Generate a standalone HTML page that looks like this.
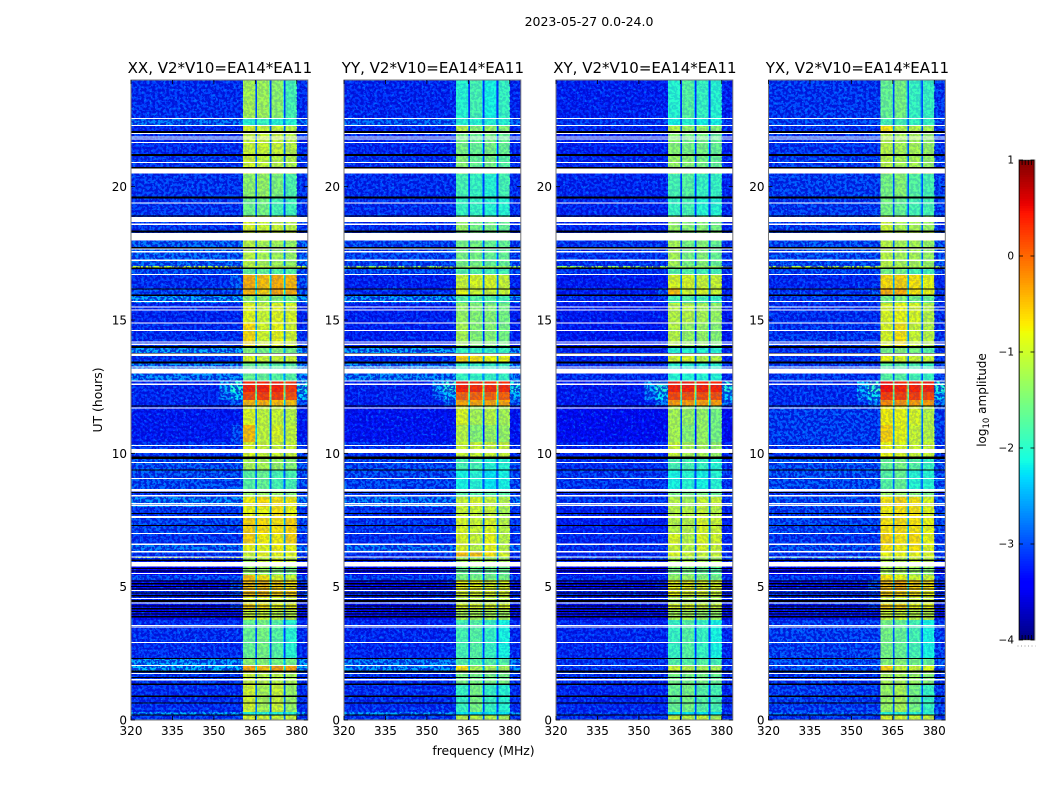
<!DOCTYPE html>
<html lang="en">
<head>
<meta charset="utf-8">
<title>2023-05-27 amplitude waterfall</title>
<style>
html,body{margin:0;padding:0;background:#fff;}
#chart{display:block;width:1050px;height:800px;}
text{font-family:"DejaVu Sans","Liberation Sans",sans-serif;fill:#000;}
</style>
</head>
<body>
<svg id="chart" xmlns="http://www.w3.org/2000/svg" width="1050" height="800" viewBox="0 0 1050 800">
  <defs>
    <filter id="speckle-light" x="0" y="0" width="1" height="1" color-interpolation-filters="sRGB">
      <feTurbulence type="fractalNoise" baseFrequency="0.38 0.36" numOctaves="2" seed="4"/>
      <feColorMatrix type="matrix" values="0 0 0 0 0  0 0 0 0 0.6  0 0 0 0 1  9 0 0 0 -5"/>
    </filter>
    <filter id="speckle-dark" x="0" y="0" width="1" height="1" color-interpolation-filters="sRGB">
      <feTurbulence type="fractalNoise" baseFrequency="0.36 0.38" numOctaves="2" seed="23"/>
      <feColorMatrix type="matrix" values="0 0 0 0 0  0 0 0 0 0  0 0 0 0 0.8  9 0 0 0 -3.9"/>
    </filter>
  </defs>
  <text x="589" y="26" font-size="12.5" text-anchor="middle">2023-05-27 0.0-24.0</text>
  <text x="483.5" y="755" font-size="12.4" text-anchor="middle">frequency (MHz)</text>
  <text x="0" y="0" font-size="12.4" text-anchor="middle" transform="translate(102 400) rotate(-90)">UT (hours)</text>
  <text x="0" y="0" font-size="12" text-anchor="middle" transform="translate(986 400) rotate(-90)">log<tspan font-size="8.5" dy="3">10</tspan><tspan dy="-3"> amplitude</tspan></text>
  <g id="panels"></g>
  <g id="colorbar"></g>
</svg>
<script>
// ---- axis ticks ----
const hourTicks = [0, 5, 10, 15, 20];
const freqTicks = [320, 335, 350, 365, 380];
const colorTicks = [-4, -3, -2, -1, 0, 1];

// ---- time segments, hours, top to bottom ----
const segmentEdges = [24, 22.575, 22.31, 22.09, 21.19, 20.48, 19.58, 18.9, 18.3, 17.96, 17.03, 16.97, 16.69, 16.2, 15.9, 15.64, 14.89, 13.99, 13.69, 13.39, 12.71, 12.3, 12.0, 11.78, 11.06, 10.43, 9.86, 9.38, 8.63, 8.36, 7.99, 7.58, 7.01, 6.56, 6.3, 6.11, 6.08, 5.74, 5.44, 5.25, 4.88, 4.61, 4.35, 4.13, 3.75, 2.33, 2.03, 1.8, 1.35, 0.3, 0.19, 0];

// ---- frequency channels, MHz ----
const channelEdges = [320, 352, 356, 360.5, 364.8, 365.1, 365.7, 370, 370.3, 370.9, 375.1, 375.4, 376, 380, 384];
const channelBand = [-1, 0, 0, 0, 0, 0, 1, 1, 1, 2, 2, 2, 3, 3];
const channelOffset = [0, -2.8, -2.4, 0, -0.6, -1.9, 0, -0.6, -1.9, 0, -0.6, -1.9, 0, -2.4];

// ---- out-of-band log10 amplitude per segment ----
const xxBackground = [-3.05,-2.7,-3.1,-3.05,-3,-3,-3,-3,-3,-2.75,-1.1,-2.85,-3.05,-2.9,-2.5,-3.1,-3.05,-2.5,-3,-2.6,-3.1,-3.1,-3.1,-3.2,-3.2,-3,-2.85,-2.85,-3,-2.6,-3,-2.9,-3,-2.7,-3,-1.1,-3.1,-3.4,-2.9,-3.3,-3.1,-3.1,-3.3,-3.3,-3.05,-2.5,-2.4,-3,-3.05,-2.5,-3];
const yyBackground = [-3.1,-2.75,-3.1,-3.1,-3.05,-3.05,-3.05,-3.05,-3,-2.9,-1.3,-2.85,-3.15,-3.05,-2.55,-3.15,-3.15,-2.5,-3.05,-2.6,-3.15,-3.15,-3.15,-3.25,-3.25,-3.05,-2.9,-2.9,-3,-2.65,-3.05,-3,-3.05,-2.7,-3.05,-2.95,-3.1,-3.4,-2.95,-3.3,-3.1,-3.1,-3.3,-3.3,-3.1,-2.6,-2.55,-3.05,-3.05,-2.55,-3];
const xyBackground = [-3.15,-3,-3.1,-3.15,-3.1,-3.1,-3.1,-3.1,-3.05,-3,-1.3,-3,-3.2,-3.15,-3.05,-3.2,-3.2,-3.1,-3.1,-3.05,-3.2,-3.2,-3.2,-3.3,-3.3,-3.1,-3.05,-3,-3.1,-3,-3.15,-3.15,-3.1,-3.05,-3.1,-2.6,-3.1,-3.4,-3.05,-3.3,-3.15,-3.15,-3.3,-3.3,-3.1,-3,-3,-3.05,-3.1,-2.95,-3.05];
const yxBackground = [-3,-2.9,-3,-3,-2.95,-2.95,-2.95,-2.95,-2.95,-2.85,-1.2,-2.9,-3.1,-3,-2.95,-3.05,-3,-3,-3,-2.95,-3.05,-3.05,-3.05,-2.95,-2.95,-3,-2.85,-2.85,-3,-2.85,-2.95,-2.9,-3,-2.85,-3,-2,-3.05,-3.35,-3,-3.25,-3.05,-3.05,-3.25,-3.25,-2.95,-2.85,-2.85,-3,-2.95,-2.75,-3];

// ---- in-band log10 amplitude per segment, four sub-bands ----
const xxLevels = [[-1.2,-1.25,-1.35,-1.8],[-2,-1.9,-2,-2],[-0.9,-1,-1,-1.1],[-1,-1,-1,-1.1],[-0.95,-1.05,-1.1,-1.15],[-1.35,-1.3,-1.45,-1.75],[-1.55,-1.5,-1.8,-1.85],[-0.9,-1,-1,-1.1],[-1,-1,-1,-1],[-1.1,-1.2,-1.25,-1.3],[-1.3,-1.3,-1.3,-1.3],[-1.6,-1.6,-1.7,-1.7],[-0.4,-0.5,-0.4,-0.45],[-0.45,-0.6,-0.35,-0.4],[-1.3,-1.3,-1.4,-1.5],[-0.85,-1,-0.85,-0.9],[-0.65,-0.95,-0.8,-0.95],[-1.4,-1.5,-1.4,-1.5],[-0.9,-1,-1,-1],[-1.6,-1.6,-1.7,-1.7],[0.35,0.35,0.35,0.25],[0.15,0.2,0.2,0.1],[-0.45,-0.4,-0.45,-0.5],[-0.9,-1.05,-1,-1.1],[-0.5,-1.05,-0.9,-1.05],[-0.9,-1,-1,-1],[-1.2,-1.2,-1.3,-1.4],[-1.7,-1.6,-1.8,-1.8],[-1.3,-1.3,-1.3,-1.4],[-0.75,-0.65,-0.7,-0.75],[-0.8,-0.8,-0.7,-0.8],[-0.6,-0.65,-0.7,-0.6],[-0.6,-0.75,-0.75,-0.6],[-0.8,-0.85,-0.75,-0.8],[-1,-0.8,-0.8,-0.85],[-1.2,-1.2,-1.2,-1.2],[-1.3,-1,-0.9,-1],[-1.3,-1.3,-1.4,-1.5],[-0.5,-0.7,-0.9,-1],[-0.5,-0.5,-0.6,-0.7],[-0.5,-0.5,-0.6,-0.6],[-0.9,-0.9,-1,-1],[-0.6,-0.7,-0.8,-0.8],[-1,-1,-1.1,-1.1],[-1.6,-1.5,-1.7,-2],[-1.35,-1.4,-1.5,-1.5],[-0.35,-0.5,-0.3,-0.35],[-1,-1.1,-1.1,-1.2],[-0.95,-1.2,-1,-1.3],[-2,-2,-2,-2],[-0.9,-0.95,-1,-1]];
const yyLevels = [[-2,-1.8,-2.1,-1.9],[-2,-2,-2,-2],[-1.1,-1.4,-1.3,-1.4],[-1.5,-1.6,-1.5,-1.6],[-1.4,-1.6,-1.5,-1.7],[-1.8,-1.9,-2,-1.8],[-1.9,-1.9,-2,-2],[-1.3,-1.5,-1.5,-1.6],[-1.5,-1.5,-1.5,-1.5],[-1.5,-1.5,-1.6,-1.6],[-1.3,-1.3,-1.3,-1.3],[-1.7,-1.7,-1.8,-1.8],[-1,-0.9,-0.9,-1],[-0.85,-1,-1,-1],[-1.7,-1.7,-1.7,-1.8],[-1.3,-1.4,-1.4,-1.5],[-1.2,-1.4,-1.4,-1.5],[-1.9,-1.9,-1.9,-1.9],[-0.6,-0.7,-0.8,-0.8],[-1.9,-1.9,-1.9,-1.9],[0.35,0.3,0.3,0.3],[0,0,0,0],[-0.35,-0.35,-0.35,-0.35],[-0.9,-1.2,-1.1,-1.2],[-1.1,-1.4,-1.3,-1.3],[-1,-1,-1,-1],[-1.8,-1.8,-2,-2],[-2.1,-2,-2.2,-2.1],[-1.7,-1.7,-1.7,-1.7],[-1,-0.9,-1,-1.1],[-1,-1,-1,-1.2],[-0.9,-1,-0.9,-1.1],[-0.9,-1,-0.8,-1.1],[-0.9,-1.1,-0.8,-1.1],[-0.5,-0.5,-0.7,-0.9],[-1.5,-1.5,-1.5,-1.5],[-1.2,-1.2,-1.2,-1.2],[-1.6,-1.6,-1.6,-1.6],[-1.5,-1.5,-1.5,-1.5],[-0.8,-0.8,-0.9,-0.9],[-0.9,-0.9,-0.9,-0.9],[-1.1,-1.1,-1.1,-1.1],[-0.9,-0.9,-0.9,-0.9],[-1.2,-1.2,-1.2,-1.2],[-1.8,-1.7,-1.9,-2.1],[-1.7,-1.7,-1.7,-1.7],[-0.7,-1.2,-1.2,-1.2],[-1.5,-1.5,-1.5,-1.5],[-1.9,-1.5,-1.9,-2],[-2.2,-2.2,-2.2,-2.2],[-1.1,-1.1,-1.1,-1.2]];
const xyLevels = [[-2,-1.7,-1.9,-2],[-2.1,-2,-2.1,-2.1],[-1.1,-1.3,-1.3,-1.4],[-1.4,-1.5,-1.5,-1.6],[-1.3,-1.4,-1.5,-1.6],[-1.8,-1.7,-1.9,-1.9],[-1.9,-1.8,-2,-2],[-1.3,-1.4,-1.4,-1.5],[-1.4,-1.4,-1.4,-1.4],[-1.2,-1.5,-1.4,-1.6],[-1.3,-1.3,-1.3,-1.3],[-1.7,-1.7,-1.8,-1.8],[-0.9,-0.9,-1,-1],[-0.5,-1,-0.9,-1],[-1.8,-1.7,-1.8,-1.9],[-1.1,-1.1,-1.2,-1.3],[-1.1,-1.3,-1.3,-1.4],[-2,-2,-2,-2],[-0.95,-0.9,-1.1,-1.1],[-2,-2,-2,-2],[0.35,0.35,0.35,0.35],[0.15,0.1,0.1,0.1],[-0.3,-0.3,-0.3,-0.3],[-1.2,-1.3,-1.3,-1.5],[-1.2,-1.4,-1.3,-1.5],[-1,-1.2,-1.2,-1.3],[-1.8,-1.8,-1.9,-2],[-2.1,-2,-2.1,-2],[-1.5,-1.5,-1.5,-1.6],[-1.1,-1.2,-1,-1],[-1.1,-1.1,-1,-1.1],[-1.1,-1.1,-0.9,-1],[-0.9,-1.1,-0.9,-0.95],[-1,-1.1,-0.9,-1],[-0.9,-1,-1,-1],[-1.3,-1.3,-1.3,-1.3],[-1.2,-1.2,-1.2,-1.2],[-1.5,-1.5,-1.6,-1.7],[-1.3,-1.3,-1.4,-1.5],[-0.8,-0.8,-0.9,-0.9],[-0.8,-0.9,-0.9,-1],[-1.2,-1.2,-1.2,-1.2],[-0.9,-0.9,-1,-1],[-1.2,-1.2,-1.3,-1.3],[-1.9,-1.7,-1.9,-2.1],[-1.7,-1.7,-1.7,-1.8],[-1,-1.1,-1.2,-1.2],[-1.5,-1.5,-1.5,-1.6],[-1.6,-1.5,-1.7,-1.8],[-2.2,-2.2,-2.2,-2.2],[-1,-1.1,-1,-1.2]];
const yxLevels = [[-1.6,-1.5,-1.9,-1.9],[-1.8,-1.8,-1.9,-1.9],[-0.7,-1.1,-1.1,-1.2],[-1.1,-1.2,-1.2,-1.3],[-1.1,-1.2,-1.2,-1.3],[-1.5,-1.4,-1.7,-1.8],[-1.5,-1.6,-1.8,-1.8],[-1,-1.2,-1.2,-1.3],[-1.1,-1.1,-1.1,-1.1],[-1.1,-1.2,-1.2,-1.3],[-1.1,-1.1,-1.2,-1.2],[-1.5,-1.5,-1.8,-1.8],[-0.65,-0.6,-0.7,-0.8],[-0.4,-0.4,-0.7,-0.8],[-1.5,-1.4,-1.5,-1.6],[-0.9,-0.8,-0.9,-1.1],[-0.9,-0.7,-1,-1.1],[-1.5,-1.4,-1.5,-1.7],[-0.8,-0.9,-1,-1],[-1.7,-1.7,-1.8,-1.9],[0.45,0.35,0.35,0.35],[0.2,0.2,0.2,0.15],[-0.2,-0.25,-0.3,-0.3],[-0.75,-0.8,-0.9,-1.1],[-0.6,-0.8,-1,-1.1],[-0.8,-0.9,-1,-1],[-1.6,-1.5,-1.7,-1.9],[-1.7,-1.6,-2,-2],[-1.3,-1.3,-1.4,-1.5],[-0.7,-0.6,-0.7,-0.9],[-0.75,-0.7,-0.7,-0.85],[-0.7,-0.65,-0.7,-0.8],[-0.6,-0.7,-0.65,-0.8],[-0.7,-0.75,-0.7,-0.85],[-0.8,-0.8,-0.8,-0.9],[-1,-1,-1,-1],[-1.1,-1.1,-1,-1.1],[-1.2,-1.2,-1.3,-1.4],[-0.7,-0.8,-1,-1],[-0.5,-0.4,-0.6,-0.7],[-0.6,-0.6,-0.7,-0.8],[-1,-1,-1,-1],[-0.6,-0.6,-0.8,-0.8],[-1,-1,-1.1,-1.1],[-1.5,-1.6,-1.8,-2.1],[-1.4,-1.4,-1.5,-1.6],[-0.6,-1,-1,-0.9],[-1.2,-1.2,-1.3,-1.4],[-1.3,-1.2,-1.5,-1.9],[-2,-2,-2,-2],[-0.9,-0.95,-1,-1]];

// ---- flagged times, [centre hour, length in hours] ----
const whiteFlags = [[22.56,0.04],[22.3,0.04],[21.99,0.04],[21.87,0.04],[21.78,0.04],[21.66,0.04],[20.91,0.04],[20.58,0.19],[19.38,0.04],[18.77,0.2],[18.59,0.04],[18.12,0.29],[17.66,0.04],[17.56,0.04],[17.24,0.04],[16.71,0.04],[15.7,0.04],[15.48,0.04],[15.38,0.04],[14.88,0.04],[14.61,0.04],[14.18,0.04],[14.09,0.04],[13.69,0.09],[13.23,0.04],[13.08,0.19],[12.72,0.04],[12.59,0.04],[11.7,0.04],[10.3,0.04],[10.09,0.15],[9.66,0.04],[9.06,0.04],[8.62,0.09],[8.41,0.04],[8.11,0.04],[8.05,0.04],[7.61,0.075],[7,0.04],[6.59,0.04],[6.31,0.04],[6.11,0.04],[5.84,0.18],[5.5,0.04],[4.86,0.04],[4.56,0.04],[4.38,0.04],[3.55,0.04],[3.48,0.04],[2.91,0.04],[2.05,0.04],[1.75,0.04],[1.51,0.04]];
const blackFlags = [[22.04,0.09],[21.18,0.075],[20.71,0.04],[19.6,0.075],[18.9,0.05],[18.31,0.075],[17.71,0.04],[16.94,0.04],[16.17,0.04],[15.93,0.065],[13.99,0.065],[13.75,0.03],[13.4,0.075],[11.77,0.04],[9.83,0.09],[9.38,0.04],[8.53,0.05],[7.75,0.04],[7.3,0.04],[5.99,0.055],[5.68,0.045],[5.59,0.045],[5.21,0.045],[5.11,0.045],[5.01,0.045],[4.91,0.045],[4.76,0.045],[4.66,0.045],[4.46,0.085],[4.27,0.045],[4.17,0.045],[4.07,0.045],[3.97,0.045],[3.87,0.045],[2.31,0.04],[1.82,0.06],[1.59,0.04],[1.34,0.04],[0.89,0.04],[0.63,0.04],[0.19,0.05]];

// ---- panel frames and titles ----
const panelNames = ['xx', 'yy', 'xy', 'yx'];
const panelTitles = ['XX, V2*V10=EA14*EA11', 'YY, V2*V10=EA14*EA11', 'XY, V2*V10=EA14*EA11', 'YX, V2*V10=EA14*EA11'];
const panelLevels = [xxLevels, yyLevels, xyLevels, yxLevels];
const panelBackground = [xxBackground, yyBackground, xyBackground, yxBackground];
const panelLeft = [131, 344, 556, 768.5];
const panelWidth = 176.8;
const panelTop = 80;
const panelHeight = 640;

const NS = 'http://www.w3.org/2000/svg';
function mk(tag, attrs, parent) {
  const el = document.createElementNS(NS, tag);
  for (const k in attrs) el.setAttribute(k, attrs[k]);
  parent.appendChild(el);
  return el;
}
function xScale(p, mhz) { return panelLeft[p] + (mhz - 320) / 64 * panelWidth; }
function yScale(hour) { return panelTop + (24 - hour) / 24 * panelHeight; }
function lerpClamp(v) { return Math.max(0, Math.min(1, v)); }
function jet(value) {
  const f = lerpClamp((value + 4) / 5);
  const seg = (pts) => {
    for (let i = 1; i < pts.length; i++) {
      if (f <= pts[i][0]) {
        const t = (f - pts[i - 1][0]) / (pts[i][0] - pts[i - 1][0]);
        return pts[i - 1][1] + t * (pts[i][1] - pts[i - 1][1]);
      }
    }
    return pts[pts.length - 1][1];
  };
  const r = seg([[0, 0], [0.35, 0], [0.66, 1], [0.89, 1], [1, 0.5]]);
  const g = seg([[0, 0], [0.125, 0], [0.375, 1], [0.64, 1], [0.91, 0], [1, 0]]);
  const b = seg([[0, 0.5], [0.11, 1], [0.34, 1], [0.65, 0], [1, 0]]);
  return 'rgb(' + Math.round(r * 255) + ',' + Math.round(g * 255) + ',' + Math.round(b * 255) + ')';
}

const panelsRoot = document.getElementById('panels');
panelNames.forEach(function (name, p) {
  const g = mk('g', {}, panelsRoot);
  
  

  const cells = mk('g', { 'shape-rendering': 'crispEdges' }, g);
  
  
  const levels = panelLevels[p];
  const background = panelBackground[p];
  levels.forEach(function (row, s) {
    const y0 = yScale(segmentEdges[s]);
    const y1 = yScale(segmentEdges[s + 1]);
    channelBand.forEach(function (band, c) {
      const x0 = xScale(p, channelEdges[c]);
      const x1 = xScale(p, channelEdges[c + 1]);
      const value = band < 0 ? background[s] : Math.max(background[s], row[band] + channelOffset[c]);
      const cell = mk('rect', { x: x0, y: y0, width: x1 - x0 + 0.3, height: y1 - y0 + 0.3, fill: jet(value) }, cells);
      
      
    });
  });

  // speckle texture laid over the smooth cells
  const speckle = mk('g', {}, g);
  
  
  [[320, channelEdges[3], 0.45, 0.7], [channelEdges[3], channelEdges[13], 0.12, 0.14], [channelEdges[13], 384, 0.45, 0.7]].forEach(function (r) {
    const x0 = xScale(p, r[0]);
    const w = xScale(p, r[1]) - x0;
    mk('rect', { x: x0, y: panelTop, width: w, height: panelHeight, filter: 'url(#speckle-light)', opacity: r[2] }, speckle);
    mk('rect', { x: x0, y: panelTop, width: w, height: panelHeight, filter: 'url(#speckle-dark)', opacity: r[3] }, speckle);
  });

  const flags = mk('g', { 'shape-rendering': 'crispEdges' }, g);
  
  
  blackFlags.forEach(function (f) {
    const h = f[1] / 24 * panelHeight;
    const band = mk('rect', { x: panelLeft[p], y: yScale(f[0]) - h / 2, width: panelWidth, height: h, fill: '#000' }, flags);
    
    
  });
  whiteFlags.forEach(function (f) {
    const h = f[1] / 24 * panelHeight;
    const band = mk('rect', { x: panelLeft[p], y: yScale(f[0]) - h / 2, width: panelWidth, height: h, fill: '#fff' }, flags);
    
    
  });

  const frame = mk('rect', { x: panelLeft[p], y: panelTop, width: panelWidth, height: panelHeight, fill: 'none', stroke: '#777', 'stroke-width': 1 }, g);
  
  

  const right = panelLeft[p] + panelWidth;
  hourTicks.forEach(function (h) {
    const y = yScale(h);
    const t1 = mk('line', { x1: panelLeft[p], x2: panelLeft[p] + 4, y1: y, y2: y, stroke: '#000', 'stroke-width': 0.8 }, g);
    
    
    const t2 = mk('line', { x1: right - 4, x2: right, y1: y, y2: y, stroke: '#000', 'stroke-width': 0.8 }, g);
    
    
    const lab = mk('text', { x: panelLeft[p] - 4, y: y + 4.5, 'font-size': 12, 'text-anchor': 'end' }, g);
    
    
    lab.textContent = h;
  });
  freqTicks.forEach(function (m) {
    const x = xScale(p, m);
    const t1 = mk('line', { x1: x, x2: x, y1: panelTop + panelHeight - 4, y2: panelTop + panelHeight, stroke: '#000', 'stroke-width': 0.8 }, g);
    
    
    const t2 = mk('line', { x1: x, x2: x, y1: panelTop, y2: panelTop + 4, stroke: '#000', 'stroke-width': 0.8 }, g);
    
    
    const lab = mk('text', { x: x, y: panelTop + panelHeight + 15, 'font-size': 12, 'text-anchor': 'middle' }, g);
    
    
    lab.textContent = m;
  });

  const title = mk('text', { x: panelLeft[p] + panelWidth / 2 + 0.5, y: 73, 'font-size': 15, 'text-anchor': 'middle' }, g);
  
  
  title.textContent = panelTitles[p];
});

// ---- colour bar ----
const cbRoot = document.getElementById('colorbar');
const cbX = 1019, cbW = 15.5, cbTop = 160, cbH = 480;
const cbScale = function (v) { return cbTop + (1 - v) / 5 * cbH; };
const cbGrad = mk('g', { 'shape-rendering': 'crispEdges' }, cbRoot);


for (let i = 0; i < 200; i++) {
  const v = -4 + i * 0.025;
  const s = mk('rect', { x: cbX, y: cbScale(v + 0.025), width: cbW, height: i === 0 ? cbH / 200 : cbH / 200 + 0.4, fill: jet(v + 0.0125) }, cbGrad);
  
  
}
const cbFrameOuter = mk('rect', { x: cbX - 0.5, y: cbTop, width: cbW + 1, height: cbH, fill: 'none', stroke: '#aaa', 'stroke-width': 1 }, cbRoot);


const cbFrameInner = mk('rect', { x: cbX + 0.5, y: cbTop + 0.5, width: cbW - 1, height: cbH - 1, fill: 'none', stroke: '#000', 'stroke-width': 0.6 }, cbRoot);


colorTicks.forEach(function (v) {
  const y = cbScale(v);
  const t1 = mk('line', { x1: cbX, x2: cbX + 4, y1: y, y2: y, stroke: '#000', 'stroke-width': 0.8 }, cbRoot);
  
  
  const t2 = mk('line', { x1: cbX + cbW - 4, x2: cbX + cbW, y1: y, y2: y, stroke: '#000', 'stroke-width': 0.8 }, cbRoot);
  
  
  const lab = mk('text', { x: cbX - 5, y: y + 3.5, 'font-size': 10.5, 'text-anchor': 'end' }, cbRoot);
  
  
  lab.textContent = v < 0 ? '\u2212' + Math.abs(v) : String(v);
});
[0.2, 0.4, 0.6, 0.8].forEach(function (t) {
  const x = cbX + t * cbW;
  const a = mk('line', { x1: x, x2: x, y1: cbTop, y2: cbTop + 5, stroke: '#000', 'stroke-width': 0.8 }, cbRoot);
  
  
  const b = mk('line', { x1: x, x2: x, y1: cbTop + cbH - 5, y2: cbTop + cbH, stroke: '#000', 'stroke-width': 0.8 }, cbRoot);
  
  
});
const cbDots = mk('line', { x1: cbX - 1.5, x2: cbX + cbW + 1, y1: 646, y2: 646, stroke: '#999', 'stroke-width': 1, 'stroke-dasharray': '1 2.5' }, cbRoot);


</script>
</body>
</html>
